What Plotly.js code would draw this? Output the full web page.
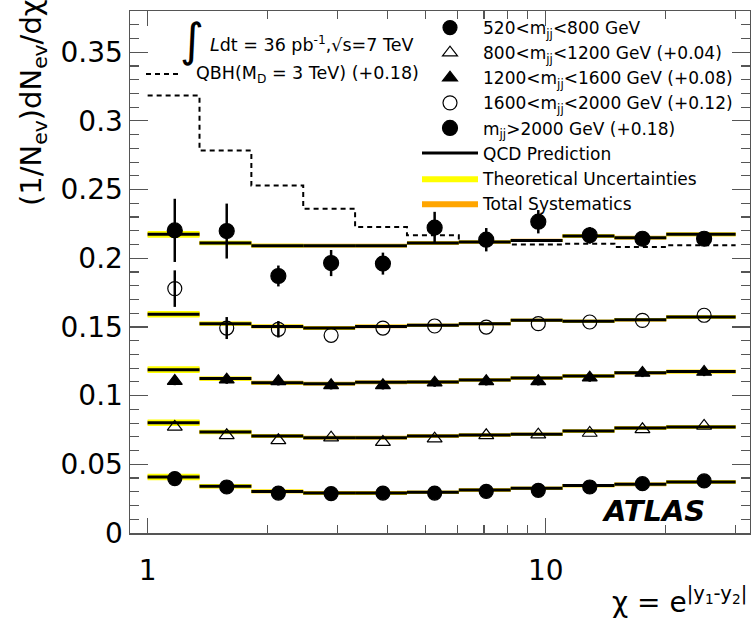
<!DOCTYPE html>
<html><head><meta charset="utf-8">
<script src="https://cdn.plot.ly/plotly-3.0.1.min.js"></script>
<style>html,body{margin:0;padding:0;background:#fff}</style>
</head><body><div id="chart" style="width:751px;height:623px"></div>
<script>
// chi bin edges and marker positions
const binEdges = [1, 1.3499, 1.8221, 2.4596, 3.3201, 4.4817, 6.0496, 8.1662, 11.0232, 14.8797, 20.0855, 30];
const chiPoints = [1.17, 1.58, 2.13, 2.89, 3.90, 5.26, 7.09, 9.58, 12.9, 17.5, 25.0];

const offsets = [0, 0.04, 0.08, 0.12, 0.18];
const seriesNames = [
  "520<m<sub>jj</sub><800 GeV",
  "800<m<sub>jj</sub><1200 GeV (+0.04)",
  "1200<m<sub>jj</sub><1600 GeV (+0.08)",
  "1600<m<sub>jj</sub><2000 GeV (+0.12)",
  "m<sub>jj</sub>>2000 GeV (+0.18)"
];

// measured data (without offset)
const data520  = [0.0396, 0.0335, 0.0291, 0.0287, 0.0291, 0.0291, 0.0303, 0.0311, 0.0335, 0.0359, 0.0379];
const data800  = [0.0372, 0.0311, 0.0275, 0.0294, 0.0262, 0.0287, 0.0311, 0.0316, 0.0328, 0.0355, 0.0379];
const data1200 = [0.0306, 0.0316, 0.0304, 0.0275, 0.0275, 0.0294, 0.0304, 0.0304, 0.0331, 0.0365, 0.0372];
const data1600 = [0.0579, 0.0292, 0.0283, 0.0239, 0.0292, 0.0307, 0.0299, 0.0324, 0.0336, 0.0348, 0.0385];
const data2000 = [0.0403, 0.0398, 0.0071, 0.0165, 0.0161, 0.0423, 0.0335, 0.0466, 0.0367, 0.0342, 0.0342];

// statistical errors (0 where hidden by the marker)
const err520  = [0.002, 0.002, 0.002, 0.002, 0.002, 0.002, 0.002, 0.002, 0.002, 0.002, 0.002];
const err800  = [0, 0, 0, 0, 0, 0, 0, 0, 0, 0, 0];
const err1200 = [0.003, 0.003, 0.003, 0.003, 0.003, 0.003, 0.003, 0.003, 0.003, 0.003, 0.003];
const err1600 = [0.0133, 0.008, 0.006, 0, 0, 0, 0, 0, 0, 0, 0];
const err2000 = [0.023, 0.020, 0.0076, 0.0095, 0.008, 0.0115, 0.0085, 0.0085, 0.006, 0.005, 0.004];

// QCD predictions (without offset)
const qcd520  = [0.0408, 0.0340, 0.0303, 0.0291, 0.0291, 0.0296, 0.0313, 0.0325, 0.0345, 0.0354, 0.0371];
const qcd800  = [0.0403, 0.0335, 0.0306, 0.0294, 0.0294, 0.0306, 0.0313, 0.0318, 0.0342, 0.0364, 0.0372];
const qcd1200 = [0.0389, 0.0324, 0.0294, 0.0287, 0.0297, 0.0299, 0.0314, 0.0328, 0.0343, 0.0367, 0.0375];
const qcd1600 = [0.0392, 0.0324, 0.0304, 0.0292, 0.0304, 0.0312, 0.0324, 0.0348, 0.0341, 0.0353, 0.0372];
const qcd2000 = [0.0374, 0.0311, 0.0292, 0.0292, 0.0292, 0.0311, 0.0318, 0.0330, 0.0362, 0.0350, 0.0374];

// uncertainty half-widths on prediction
const theoUnc = [0.0024, 0.0016, 0.0013, 0.0012, 0.0012, 0.0011, 0.0011, 0.0011, 0.0012, 0.0012, 0.0013];
const systUnc = [0.0018, 0.0014, 0.0014, 0.0014, 0.0014, 0.0012, 0.0012, 0.0012, 0.0012, 0.0013, 0.0013];

// QBH (M_D = 3 TeV) prediction (without +0.18 offset)
const qbh = [0.1384, 0.0984, 0.0729, 0.0561, 0.0427, 0.0367, 0.0318, 0.0301, 0.0306, 0.0282, 0.0294];
const qbhOffset = 0.18;

const allData = [data520, data800, data1200, data1600, data2000];
const allErr = [err520, err800, err1200, err1600, err2000];
const allQcd = [qcd520, qcd800, qcd1200, qcd1600, qcd2000];
const symbols = ["circle", "triangle-up-open", "triangle-up", "circle-open", "circle"];
const sizes = [14, 13, 13, 14, 15];

const FONT = "DejaVu Sans, Liberation Sans, Arial, sans-serif";

function bandTrace(vals, off, unc, color, name, show, rank) {
  const x = [], y = [];
  for (let k = 0; k < vals.length; k++) {
    const lo = binEdges[k], hi = binEdges[k + 1];
    const v = vals[k] + off;
    x.push(lo, hi, hi, lo, lo, null);
    y.push(v - unc[k], v - unc[k], v + unc[k], v + unc[k], v - unc[k], null);
  }
  return {x, y, type: "scatter", mode: "lines", fill: "toself", fillcolor: color,
    line: {width: 0, color: color}, name: name, showlegend: show, legendrank: rank, hoverinfo: "skip"};
}
function lineTrace(vals, off, show) {
  const x = [], y = [];
  for (let k = 0; k < vals.length; k++) {
    x.push(binEdges[k], binEdges[k + 1], null);
    y.push(vals[k] + off, vals[k] + off, null);
  }
  return {x, y, type: "scatter", mode: "lines", line: {color: "black", width: 3},
    name: "QCD Prediction", showlegend: show, legendrank: 6, hoverinfo: "skip"};
}

const traces = [];
// QBH dashed histogram
traces.push({
  x: binEdges, y: qbh.concat([qbh[qbh.length - 1]]).map(v => v + qbhOffset),
  type: "scatter", mode: "lines", line: {shape: "hv", dash: "5px,4px", color: "black", width: 2},
  showlegend: false, hoverinfo: "skip"
});
for (let i = 0; i < 5; i++) {
  traces.push(bandTrace(allQcd[i], offsets[i], systUnc, "#ffa500", "Total Systematics", i === 0, 8));
  traces.push(bandTrace(allQcd[i], offsets[i], theoUnc, "#ffff00", "Theoretical Uncertainties", i === 0, 7));
  traces.push(lineTrace(allQcd[i], offsets[i], i === 0));
}
for (let i = 0; i < 5; i++) {
  traces.push({
    x: chiPoints, y: allData[i].map(v => v + offsets[i]),
    type: "scatter", mode: "markers", name: seriesNames[i], legendrank: i + 1,
    marker: {symbol: symbols[i], size: sizes[i], color: "black", line: {color: "black", width: 1.2}},
    error_y: {type: "data", array: allErr[i], visible: true, thickness: 2.5, width: 0, color: "black"},
    hoverinfo: "skip"
  });
}

const L = 130, R = 750, T = 11, B = 533;
const px = v => (v - L) / (R - L);
const py = v => (B - v) / (B - T);

const layout = {
  width: 751, height: 623,
  margin: {l: 130, r: 1, t: 11, b: 90},
  paper_bgcolor: "white", plot_bgcolor: "white",
  font: {family: FONT, color: "black"},
  showlegend: true,
  legend: {x: px(417), y: py(10), xanchor: "left", yanchor: "top", bgcolor: "rgba(0,0,0,0)",
    font: {family: FONT, size: 17, color: "black"}, itemwidth: 56, traceorder: "normal"},
  xaxis: {
    type: "log", range: [Math.log10(0.903), Math.log10(32.6)],
    showline: true, linecolor: "#555", linewidth: 1.5, mirror: "allticks",
    ticks: "inside", ticklen: 15, tickwidth: 1.2, tickcolor: "#555",
    tickmode: "array", tickvals: [1, 10], ticktext: ["1", "10"],
    tickfont: {family: FONT, size: 28, color: "black"}, ticklabelstandoff: 12,
    minor: {ticks: "inside", ticklen: 8, tickwidth: 1.2, tickcolor: "#555", tickmode: "array",
      tickvals: [2, 3, 4, 5, 6, 7, 8, 9, 20, 30]},
    showgrid: false, zeroline: false
  },
  yaxis: {
    range: [0, 0.38], showline: true, linecolor: "#555", linewidth: 1.5, mirror: "allticks",
    ticks: "inside", ticklen: 18, tickwidth: 1.2, tickcolor: "#555", dtick: 0.05, tick0: 0,
    tickfont: {family: FONT, size: 28, color: "black"},
    minor: {ticks: "inside", ticklen: 9, tickwidth: 1.2, tickcolor: "#555", dtick: 0.01},
    showgrid: false, zeroline: false
  },
  shapes: [
    {type: "line", xref: "paper", yref: "paper", x0: px(146), x1: px(182), y0: py(74), y1: py(74),
      line: {color: "black", width: 2, dash: "5px,4px"}}
  ],
  annotations: [
    {text: "(1/N<sub>ev</sub>)dN<sub>ev</sub>/dχ", xref: "paper", yref: "paper", x: px(33), y: py(103),
      xanchor: "center", yanchor: "middle", textangle: -90, showarrow: false,
      font: {family: FONT, size: 29, color: "black"}},
    {text: "χ = e<sup>|y<sub>1</sub>-y<sub>2</sub>|</sup>", xref: "paper", yref: "paper", x: px(749), y: py(600),
      xanchor: "right", yanchor: "middle", showarrow: false,
      font: {family: FONT, size: 28, color: "black"}},
    {text: "∫", xref: "paper", yref: "paper", x: px(206), y: py(40), xanchor: "right", yanchor: "middle",
      showarrow: false, font: {family: FONT, size: 46, color: "black"}},
    {text: "<i>L</i>dt = 36 pb<sup>-1</sup>,√s=7 TeV", xref: "paper", yref: "paper", x: px(208), y: py(44),
      xanchor: "left", yanchor: "middle", showarrow: false, font: {family: FONT, size: 17.5, color: "black"}},
    {text: "QBH(M<sub>D</sub> = 3 TeV) (+0.18)", xref: "paper", yref: "paper", x: px(194), y: py(74),
      xanchor: "left", yanchor: "middle", showarrow: false, font: {family: FONT, size: 17.5, color: "black"}},
    {text: "<b><i>ATLAS</i></b>", xref: "paper", yref: "paper", x: px(653), y: py(511),
      xanchor: "center", yanchor: "middle", showarrow: false, font: {family: FONT, size: 29, color: "black"}}
  ]
};

Plotly.newPlot("chart", traces, layout, {staticPlot: true, displayModeBar: false});
</script>
</body></html>
